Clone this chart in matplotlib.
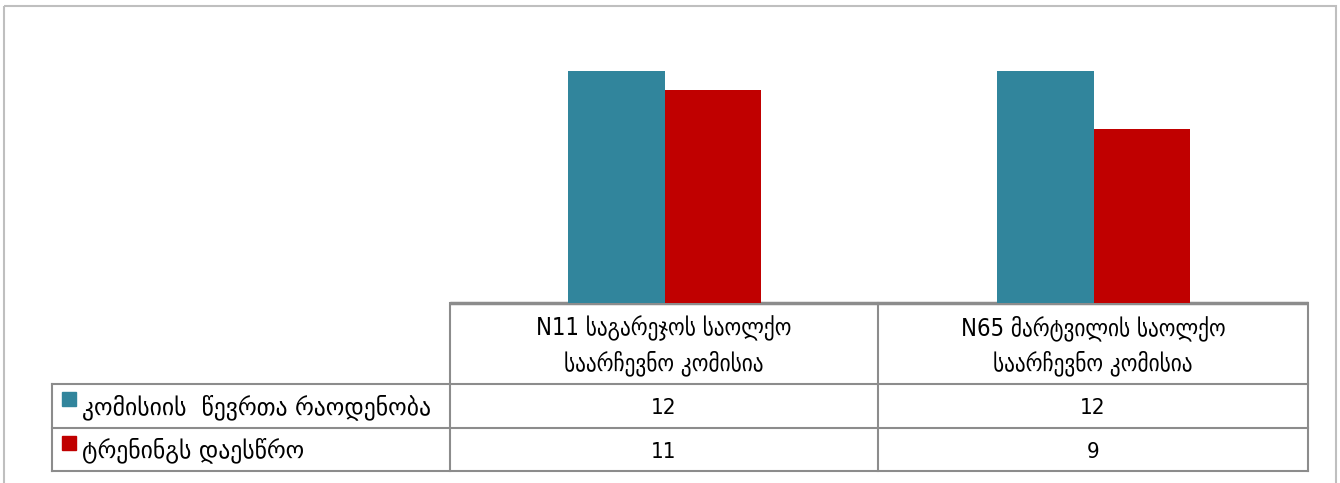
import matplotlib
matplotlib.use("Agg")
import matplotlib.pyplot as plt
from matplotlib.patches import Rectangle

# data
categories = ["N11 საგარეჯოს საოლქო\nსაარჩევნო კომისია",
              "N65 მარტვილის საოლქო\nსაარჩევნო კომისია"]
series_names = ["კომისიის  წევრთა რაოდენობა", "ტრენინგს დაესწრო"]
members = [12, 12]
attended = [11, 9]
colors = ["#31859C", "#C00000"]

plt.rcParams['font.family'] = ['DejaVu Sans']

W, H = 1340, 483
fig = plt.figure(figsize=(W / 100, H / 100), dpi=100)

# overlay for border and table, pixel coords
ov = fig.add_axes([0, 0, 1, 1])
ov.set_xlim(0, W)
ov.set_ylim(H, 0)
ov.axis("off")
ov.add_patch(Rectangle((4, 6), 1332, 480, fill=False, edgecolor="#BFBFBF", lw=1.5))

# bar axes
x0, x1, ytop, ybase = 450, 1308, 32, 303
ax = fig.add_axes([x0 / W, (H - ybase) / H, (x1 - x0) / W, (ybase - ytop) / H])
w = 0.224
xs = range(len(categories))
ax.bar([x - w / 2 for x in xs], members, width=w, color=colors[0])
ax.bar([x + w / 2 for x in xs], attended, width=w, color=colors[1])
ax.set_xlim(-0.5, len(categories) - 0.5)
ax.set_ylim(0, 14)
ax.axis("off")

# table
lc = "#8C8C8C"
xl = 52
col_edges = [x0, 878, x1]
rows_y = [303, 384, 428, 471]
ov.plot([x0, x1], [ybase, ybase], color=lc, lw=2.5, solid_capstyle="butt")
for x in col_edges:
    ov.plot([x, x], [rows_y[0], rows_y[-1]], color=lc, lw=1.5)
ov.plot([xl, xl], [rows_y[1], rows_y[-1]], color=lc, lw=1.5)
for y in rows_y[1:]:
    ov.plot([xl, x1], [y, y], color=lc, lw=1.5)

for i, cat in enumerate(categories):
    cx = (col_edges[i] + col_edges[i + 1]) / 2
    ov.text(cx, (rows_y[0] + rows_y[1]) / 2 + 2, cat, ha="center", va="center",
            fontsize=17, linespacing=1.5, fontstretch="condensed")

for r, (name, vals) in enumerate(zip(series_names, [members, attended])):
    yc = (rows_y[r + 1] + rows_y[r + 2]) / 2
    ov.add_patch(Rectangle((62, yc - 14), 14, 14, color=colors[r]))
    ov.text(82, yc + 1, name, ha="left", va="center", fontsize=17)
    for i, v in enumerate(vals):
        cx = (col_edges[i] + col_edges[i + 1]) / 2
        ov.text(cx, yc + 2, str(v), ha="center", va="center", fontsize=16,
                fontstretch="condensed")

fig.savefig("out.png", dpi=100)
